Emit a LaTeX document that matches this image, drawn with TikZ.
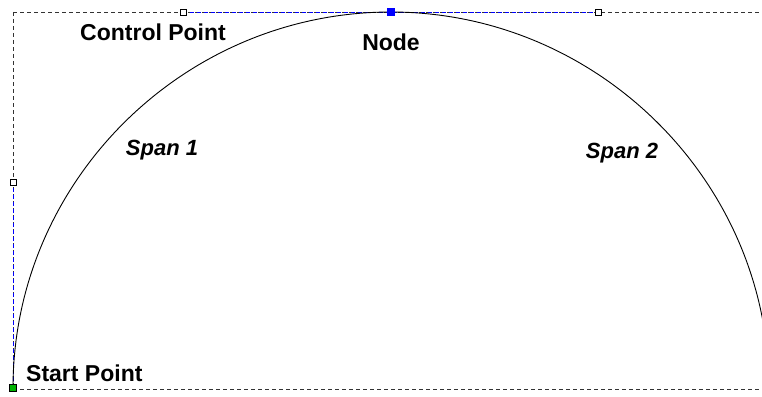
\documentclass[tikz,border=0pt]{standalone}
\usepackage{fontspec}
\setmainfont{Liberation Sans}
\begin{document}
\begin{tikzpicture}[x=1pt,y=-1pt,
  frame/.style={draw=black!80,dashed,dash pattern=on 4pt off 3pt,line width=0.9pt},
  handle/.style={draw=blue,dashed,dash pattern=on 4pt off 3pt,line width=0.9pt},
  ctrl/.style={draw=black,fill=white,minimum size=6pt,inner sep=0pt,line width=0.8pt},
  nodept/.style={draw=blue,fill=blue,minimum size=7pt,inner sep=0pt},
  startpt/.style={draw=black,fill=green!70!black,minimum size=7pt,inner sep=0pt,line width=0.8pt},
  lbl/.style={font=\bfseries\fontsize{23}{25}\selectfont,inner sep=0pt},
  span/.style={font=\bfseries\itshape\fontsize{22}{24}\selectfont,inner sep=0pt},
  curve/.style={draw=black,line width=0.9pt}]
\useasboundingbox (0,0) rectangle (762,396);
\coordinate (s) at (13,388);
\coordinate (c1) at (13,182);
\coordinate (c2) at (183,12);
\coordinate (n) at (391,12);
\coordinate (c3) at (598,12);
\coordinate (c4) at (769,182);
\coordinate (e) at (769,388);
\coordinate (tl) at (13,12);
\coordinate (tr) at (762,12);
\coordinate (br) at (762,389);
\coordinate (bl) at (13,389);
% frame
\draw[frame] (bl) -- (br);
\draw[frame] (tl) -- (tr);
\draw[frame] (tl) -- (bl);
% handles
\draw[handle] (s) -- (c1);
\draw[handle] (c2) -- (c3);
% curve
\begin{scope}
\clip (0,0) rectangle (762,396);
\draw[curve] (s) .. controls (c1) and (c2) .. (n) .. controls (c3) and (c4) .. (e);
\end{scope}
% markers
\node[ctrl] (m1) at (c1) {};
\node[ctrl] (m2) at (c2) {};
\node[ctrl] (m3) at (c3) {};
\node[nodept] (mn) at (n) {};
\node[startpt] (ms) at (s) {};
% labels
\node[lbl] (lcp) at (153,32) {Control Point};
\node[lbl] (lnode) at (391,42) {Node};
\node[span] (ls1) at (162,150) {Span 1};
\node[span] (ls2) at (622,153) {Span 2};
\node[lbl,anchor=west] (lsp) at (26,373) {Start Point};
\end{tikzpicture}
\end{document}
